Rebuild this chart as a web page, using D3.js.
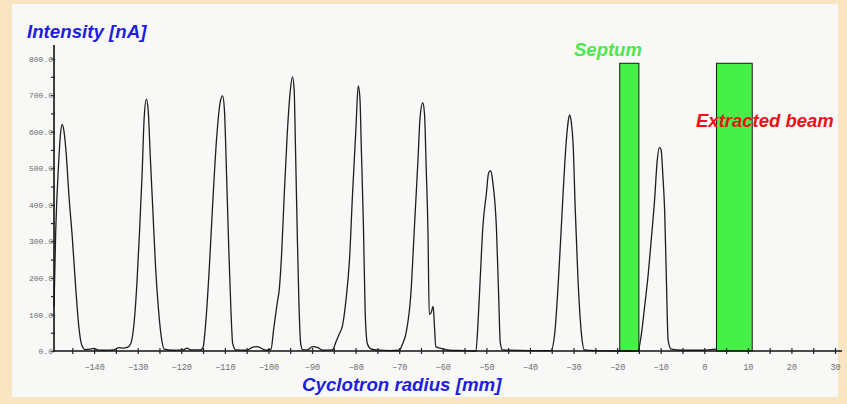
<!DOCTYPE html>
<html>
<head>
<meta charset="utf-8">
<script src="https://cdn.jsdelivr.net/npm/d3@7"></script>
<style>
  html, body { margin: 0; padding: 0; background: #f9e5c1; }
  svg { display: block; }
</style>
</head>
<body>
<svg id="chart" width="847" height="404"></svg>
<script>
// ---- data ----
const radius = [
  -149.2, -148.8, -148.2, -147.7, -147.3, -146.9, -146.4, -145.8, -145.0, -144.2, -143.5, -142.8, -142.0, -141.0, -140.0, -139.2, -138.0, -135.5, -134.3, -133.3, -132.4,
  -131.6, -130.8, -130.2, -129.6, -129.0, -128.5, -128.0, -127.6, -127.1, -126.5, -125.9, -125.2, -124.6, -123.9, -122.0, -119.5, -118.7, -117.8, -115.6,
  -115.0, -114.3, -113.6, -112.8, -111.9, -111.0, -110.5, -110.1, -109.6, -109.1, -108.6, -108.2, -107.5, -105.0, -103.7, -102.6, -100.5,
  -99.4, -98.8, -98.0, -97.5, -97.0, -96.4, -95.7, -95.0, -94.5, -94.1, -93.8, -93.4, -93.0, -92.6, -92.2, -91.0, -89.9, -88.8, -87.5,
  -85.3, -84.5, -83.8, -83.0, -82.2, -81.4, -80.7, -79.9, -79.4, -79.0, -78.7, -78.2, -77.8, -77.3, -76.5, -75.3, -72.0,
  -70.0, -69.2, -68.4, -67.3, -66.5, -65.7, -65.2, -64.6, -64.2, -63.8, -63.4, -63.1, -62.7, -62.2, -61.9, -61.6, -60.0, -58.5, -55.0,
  -52.4, -51.9, -51.4, -50.8, -50.0, -49.5, -49.0, -48.5, -48.0, -47.7, -47.2, -46.8, -46.3, -40.0,
  -35.2, -34.3, -33.2, -32.4, -31.7, -31.2, -30.9, -30.5, -30.1, -29.6, -29.0, -28.2, -27.5, -25.0, -20.0,
  -15.2, -14.5, -13.7, -12.9, -12.2, -11.4, -10.8, -10.3, -9.9, -9.5, -9.1, -8.7, -8.3, -7.6, -5.0, 0.0, 1.5, 2.8
];
const intensity = [
  120, 330, 500, 595, 620, 600, 540, 430, 310, 170, 66, 15, 4, 5, 7, 3, 2, 3, 9, 8, 10,
  20, 80, 180, 320, 480, 640, 689, 660, 530, 380, 230, 110, 40, 5, 2, 3, 8, 3, 3,
  10, 90, 220, 400, 580, 685, 698, 660, 480, 280, 110, 20, 3, 2, 10, 12, 2,
  5, 60, 130, 170, 260, 420, 590, 710, 750, 715, 560, 330, 130, 20, 4, 3, 12, 10, 2,
  3, 25, 45, 70, 140, 250, 430, 615, 725, 690, 560, 340, 105, 20, 6, 3, 1,
  2, 20, 50, 160, 340, 520, 640, 679, 650, 500, 330, 100, 104, 122, 66, 12, 6, 2, 1,
  0, 80, 200, 340, 430, 486, 493, 460, 400, 340, 160, 22, 3, 1,
  1, 50, 250, 430, 568, 630, 646, 625, 568, 386, 203, 49, 3, 1, 0,
  0, 40, 120, 205, 300, 413, 520, 557, 550, 480, 386, 200, 30, 5, 2, 2, 4, 5
];
const xMajorTicks = [-140, -130, -120, -110, -100, -90, -80, -70, -60, -50, -40, -30, -20, -10, 0, 10, 20, 30];
const xMinorTicks = [-145, -135, -125, -115, -105, -95, -85, -75, -65, -55, -45, -35, -25, -15, -5, 5, 15, 25];
const yMajorTicks = [0, 100, 200, 300, 400, 500, 600, 700, 800];
const yMinorTicks = [50, 150, 250, 350, 450, 550, 650, 750];
const barNames = ["Septum", "Extracted beam"];
const barStart = [-19.4, 2.8];
const barEnd = [-15.0, 11.0];
const barTop = [787, 787];

// ---- drawing ----
const svg = d3.select("#chart");
// paper panel
svg.append("rect").attr("x", 12).attr("y", 4).attr("width", 826).attr("height", 393)
  .attr("fill", "#f8f8f6");

const x = d3.scaleLinear().domain([-149.2, 31.6]).range([54, 842]);
const y = d3.scaleLinear().domain([0, 837]).range([351, 45]);

// bars
const bars = barNames.map((n, i) => ({ name: n, a: barStart[i], b: barEnd[i], top: barTop[i] }));
svg.append("g").selectAll("rect").data(bars).join("rect")
  .attr("x", d => x(d.a))
  .attr("y", d => y(d.top))
  .attr("width", d => x(d.b) - x(d.a))
  .attr("height", d => y(0) - y(d.top))
  .attr("fill", "#46f046")
  .attr("stroke", "#1a1a1a")
  .attr("stroke-width", 1);

// trace
const pts = radius.map((r, i) => [r, intensity[i]]);
const line = d3.line().x(d => x(d[0])).y(d => y(d[1])).curve(d3.curveMonotoneX);
svg.append("path").datum(pts).attr("d", line)
  .attr("fill", "none").attr("stroke", "#1e1e1e").attr("stroke-width", 1.3)
  .attr("stroke-linejoin", "round");

// x axis
const monoFont = "'Liberation Mono', 'DejaVu Sans Mono', monospace";
const xAxis = svg.append("g").attr("transform", `translate(0,${y(0)})`)
  .call(d3.axisBottom(x).tickValues(xMajorTicks.concat(xMinorTicks))
    .tickSize(3).tickFormat(d => xMajorTicks.includes(d) ? d3.format("d")(d) : ""));
xAxis.select(".domain").attr("stroke", "#111").attr("stroke-width", 1.6)
  .attr("d", `M${x.range()[0]},0H${x.range()[1]}`);
xAxis.selectAll(".tick line").attr("y1", -3).attr("y2", 3).attr("stroke", "#222").attr("stroke-width", 1.2);
xAxis.selectAll(".tick text").attr("y", 13).attr("fill", "#6e6e6e")
  .style("font-family", monoFont).style("font-size", "8.5px");

// y axis
const yAxis = svg.append("g").attr("transform", `translate(${x(-149.2)},0)`)
  .call(d3.axisLeft(y).tickValues(yMajorTicks.concat(yMinorTicks))
    .tickSize(3).tickFormat(d => yMajorTicks.includes(d) ? d3.format(".1f")(d) : ""));
yAxis.select(".domain").attr("stroke", "#111").attr("stroke-width", 1.6)
  .attr("d", `M0,${y.range()[0]}V${y.range()[1]}`);
yAxis.selectAll(".tick line").attr("x1", 1).attr("x2", -3).attr("stroke", "#222").attr("stroke-width", 1.2);
yAxis.selectAll(".tick text").attr("x", -1).attr("fill", "#6e6e6e")
  .style("font-family", monoFont).style("font-size", "8px");

// titles / annotations
const sans = "'Liberation Sans', Arial, sans-serif";
function label(txt, tx, ty, color, size) {
  svg.append("text").attr("x", tx).attr("y", ty).text(txt)
    .attr("fill", color).style("font-family", sans).style("font-weight", "bold")
    .style("font-style", "italic").style("font-size", size + "px");
}
label("Intensity [nA]", 27, 38, "#1e1edc", 18.7);
label("Cyclotron radius [mm]", 302, 391, "#1e1edc", 18.7);
label(barNames[0], 574, 56, "#4ae84a", 18.5);
label(barNames[1], 696, 127, "#ea1218", 18.5);
</script>
</body>
</html>
